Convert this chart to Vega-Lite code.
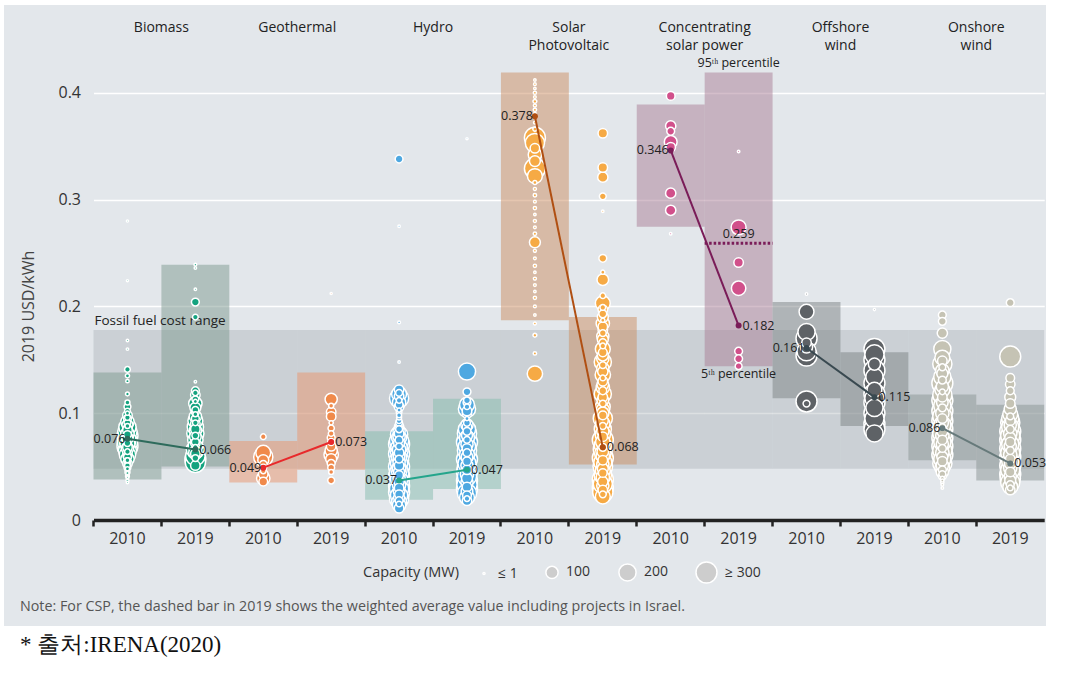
{
  "$schema": "https://vega.github.io/schema/vega-lite/v6.json",
  "width": 1042,
  "height": 621,
  "autosize": {"type": "none"},
  "padding": {"left": 4, "top": 5, "right": 38, "bottom": 52},
  "background": "white",
  "title": {
    "text": "Note: For CSP, the dashed bar in 2019 shows the weighted average value including projects in Israel.",
    "subtitle": "*  출처:IRENA(2020)",
    "orient": "bottom", "anchor": "start", "frame": "group",
    "offset": -26, "dx": 16,
    "font": "Open Sans", "fontSize": 14.3, "fontWeight": "normal", "color": "#555",
    "subtitleFont": "Liberation Serif", "subtitleFontSize": 23, "subtitleColor": "#111", "subtitlePadding": 20
  },
  "config": {
    "view": {"stroke": null, "fill": "#e3e7eb"},
    "font": "Open Sans",
    "text": {"font": "Open Sans", "color": "#222"},
    "legend": {"symbolBaseFillColor": "#cdcdcd", "symbolBaseStrokeColor": "white"}
  },
  "datasets": {
    "fossil": [
      {"cat": "Biomass 2010", "lo": 0.048, "hi": 0.178},
      {"cat": "Biomass 2019", "lo": 0.048, "hi": 0.178},
      {"cat": "Geothermal 2010", "lo": 0.048, "hi": 0.178},
      {"cat": "Geothermal 2019", "lo": 0.048, "hi": 0.178},
      {"cat": "Hydro 2010", "lo": 0.048, "hi": 0.178},
      {"cat": "Hydro 2019", "lo": 0.048, "hi": 0.178},
      {"cat": "Solar PV 2010", "lo": 0.048, "hi": 0.178},
      {"cat": "Solar PV 2019", "lo": 0.048, "hi": 0.178},
      {"cat": "CSP 2010", "lo": 0.048, "hi": 0.178},
      {"cat": "CSP 2019", "lo": 0.048, "hi": 0.178},
      {"cat": "Offshore wind 2010", "lo": 0.048, "hi": 0.178},
      {"cat": "Offshore wind 2019", "lo": 0.048, "hi": 0.178},
      {"cat": "Onshore wind 2010", "lo": 0.048, "hi": 0.178},
      {"cat": "Onshore wind 2019", "lo": 0.048, "hi": 0.178}
    ],
    "boxes": [
      {"cat": "Biomass 2010", "p5": 0.038, "p95": 0.138},
      {"cat": "Biomass 2019", "p5": 0.050, "p95": 0.239},
      {"cat": "Geothermal 2010", "p5": 0.035, "p95": 0.074},
      {"cat": "Geothermal 2019", "p5": 0.047, "p95": 0.138},
      {"cat": "Hydro 2010", "p5": 0.019, "p95": 0.083},
      {"cat": "Hydro 2019", "p5": 0.029, "p95": 0.1135},
      {"cat": "Solar PV 2010", "p5": 0.187, "p95": 0.419},
      {"cat": "Solar PV 2019", "p5": 0.052, "p95": 0.190},
      {"cat": "CSP 2010", "p5": 0.2745, "p95": 0.389},
      {"cat": "CSP 2019", "p5": 0.144, "p95": 0.419},
      {"cat": "Offshore wind 2010", "p5": 0.114, "p95": 0.204},
      {"cat": "Offshore wind 2019", "p5": 0.088, "p95": 0.157},
      {"cat": "Onshore wind 2010", "p5": 0.056, "p95": 0.1175},
      {"cat": "Onshore wind 2019", "p5": 0.037, "p95": 0.108}
    ],
    "bubbles": [
      {"cat": "Biomass 2010", "lcoe": [0.28,0.224,0.168,0.16,0.141,0.135,0.13,0.118,0.11,0.106,0.102,0.098,0.095,0.092,0.089,0.087,0.085,0.083,0.081,0.079,0.077,0.075,0.073,0.071,0.069,0.067,0.065,0.063,0.061,0.059,0.057,0.055,0.053,0.051,0.049,0.047,0.045,0.043,0.041,0.039,0.037,0.035],
       "mw": [1,1,2,2,20,10,6,8,15,30,20,60,40,120,80,200,60,250,120,300,90,200,280,150,300,100,220,60,180,40,120,30,60,20,30,10,15,5,8,3,4,2]},
      {"cat": "Biomass 2010", "lcoe": [0.1,0.096,0.091,0.088,0.084,0.08,0.076,0.072,0.068,0.064,0.06,0.056,0.052,0.048,0.044,0.04],
       "mw": [10,20,30,15,60,40,80,30,60,20,50,15,30,10,5,2]},
      {"cat": "Biomass 2019", "lcoe": [0.239,0.236,0.216,0.204,0.19,0.1295,0.121,0.117,0.113,0.109,0.105,0.101,0.097,0.093,0.09,0.087,0.084,0.081,0.078,0.075,0.072,0.069,0.066,0.063,0.06,0.057,0.054,0.051],
       "mw": [3,2,2,40,20,2,40,60,30,120,80,40,100,150,60,180,100,200,90,160,60,140,220,120,260,300,280,60]},
      {"cat": "Biomass 2019", "lcoe": [0.119,0.111,0.103,0.099,0.095,0.091,0.085,0.079,0.073,0.068,0.062,0.058],
       "mw": [20,10,30,15,40,20,60,30,40,20,60,30]},
      {"cat": "Geothermal 2010", "lcoe": [0.078,0.063,0.059,0.056,0.052,0.049,0.046,0.043,0.039,0.036],
       "mw": [20,150,250,80,40,30,20,60,120,50]},
      {"cat": "Geothermal 2019", "lcoe": [0.212,0.113,0.107,0.101,0.097,0.091,0.086,0.081,0.077,0.073,0.069,0.065,0.061,0.057,0.053,0.049,0.045,0.037],
       "mw": [1,100,15,60,60,10,25,20,40,30,60,100,140,80,40,30,15,30]},
      {"cat": "Hydro 2010", "lcoe": [0.338,0.275,0.185,0.148,0.122,0.118,0.114,0.11,0.106,0.101,0.096,0.091,0.087,0.083,0.08,0.077,0.074,0.071,0.068,0.065,0.062,0.059,0.056,0.053,0.05,0.047,0.044,0.041,0.038,0.035,0.032,0.029,0.026,0.023,0.02,0.017,0.014,0.011],
       "mw": [40,2,3,2,60,150,250,120,60,20,15,30,60,100,200,150,250,300,180,220,300,150,250,200,300,180,260,300,200,280,300,250,300,200,250,150,120,60]},
      {"cat": "Hydro 2010", "lcoe": [0.119,0.116,0.112,0.108,0.103,0.098,0.093,0.089,0.085,0.081,0.078,0.075,0.072,0.069,0.066,0.063,0.06,0.057,0.054,0.051,0.048,0.045,0.042,0.039,0.036,0.033,0.03,0.027,0.024,0.021,0.018,0.015],
       "mw": [30,60,20,40,10,15,20,40,30,60,100,40,80,30,120,60,90,40,100,60,120,80,50,100,70,120,60,90,50,80,40,20]},
      {"cat": "Hydro 2019", "lcoe": [0.357,0.139,0.12,0.112,0.108,0.104,0.1,0.089,0.085,0.081,0.077,0.073,0.069,0.065,0.061,0.057,0.053,0.049,0.045,0.041,0.037,0.033,0.029,0.025,0.021,0.018],
       "mw": [1,200,40,30,150,200,60,100,200,250,150,300,200,250,150,300,220,260,300,250,300,280,300,250,150,60]},
      {"cat": "Hydro 2019", "lcoe": [0.11,0.106,0.102,0.095,0.091,0.087,0.083,0.079,0.075,0.071,0.067,0.063,0.059,0.055,0.051,0.047,0.043,0.039,0.035,0.031,0.027,0.023,0.02],
       "mw": [40,20,60,10,30,60,40,80,30,100,60,40,90,50,100,60,120,80,100,60,90,50,20]},
      {"cat": "Solar PV 2010", "lcoe": [0.412,0.408,0.404,0.4,0.396,0.392,0.388,0.384,0.38,0.372,0.366,0.358,0.353,0.348,0.342,0.336,0.329,0.322,0.316,0.31,0.304,0.298,0.292,0.286,0.28,0.274,0.268,0.26,0.252,0.245,0.238,0.232,0.226,0.22,0.214,0.208,0.2,0.192,0.184,0.173,0.156,0.137],
       "mw": [2,3,2,5,3,8,4,6,5,3,10,300,250,60,120,80,300,150,10,4,6,3,5,2,4,3,6,80,4,3,5,2,4,3,2,5,3,2,4,8,6,160]},
      {"cat": "Solar PV 2019", "lcoe": [0.362,0.33,0.321,0.303,0.289,0.245,0.232,0.225,0.21,0.203,0.197,0.19,0.184,0.178,0.172,0.166,0.16,0.154,0.148,0.142,0.136,0.13,0.124,0.118,0.112,0.106,0.1,0.095,0.09,0.085,0.08,0.075,0.07,0.066,0.062,0.058,0.054,0.05,0.046,0.042,0.038,0.034,0.03,0.026,0.022],
       "mw": [60,60,70,30,2,40,10,90,20,150,60,80,120,60,100,40,150,80,200,100,160,60,120,200,90,150,100,250,140,200,160,300,200,250,180,300,220,260,150,200,300,250,300,280,150]},
      {"cat": "Solar PV 2019", "lcoe": [0.199,0.193,0.187,0.181,0.175,0.169,0.163,0.157,0.151,0.145,0.139,0.133,0.127,0.121,0.115,0.109,0.103,0.098,0.093,0.088,0.083,0.078,0.073,0.068,0.064,0.06,0.056,0.052,0.048,0.044,0.04,0.036,0.032,0.028,0.024],
       "mw": [20,40,10,60,30,80,20,50,100,30,70,20,90,40,60,30,120,50,80,30,100,60,140,40,90,120,60,100,80,50,120,70,100,60,30]},
      {"cat": "CSP 2010", "lcoe": [0.397,0.369,0.364,0.354,0.349,0.306,0.29,0.268],
       "mw": [50,70,40,110,60,70,70,2]},
      {"cat": "CSP 2019", "lcoe": [0.345,0.274,0.241,0.217,0.158,0.151,0.144],
       "mw": [2,150,60,140,40,40,30]},
      {"cat": "Offshore wind 2010", "lcoe": [0.2116,0.195,0.176,0.17,0.166,0.162,0.158,0.154,0.111,0.109],
       "mw": [2,150,200,300,60,100,250,300,300,30]},
      {"cat": "Offshore wind 2019", "lcoe": [0.197,0.16,0.155,0.15,0.146,0.14,0.134,0.128,0.122,0.118,0.114,0.11,0.105,0.1,0.095,0.09,0.085,0.081],
       "mw": [1,300,250,300,100,300,200,300,150,300,250,300,200,300,250,300,300,200]},
      {"cat": "Onshore wind 2010", "lcoe": [0.192,0.186,0.175,0.16,0.152,0.146,0.14,0.134,0.128,0.122,0.117,0.112,0.107,0.102,0.097,0.093,0.089,0.085,0.081,0.077,0.073,0.069,0.065,0.061,0.057,0.053,0.049,0.045,0.041,0.035,0.03],
       "mw": [40,40,70,200,150,250,120,200,300,150,250,300,200,300,250,300,200,300,250,300,200,300,250,300,200,250,150,100,40,5,2]},
      {"cat": "Onshore wind 2010", "lcoe": [0.149,0.143,0.137,0.131,0.125,0.12,0.115,0.11,0.105,0.1,0.095,0.091,0.087,0.083,0.079,0.075,0.071,0.067,0.063,0.059,0.055,0.051,0.047,0.043,0.039,0.037,0.033],
       "mw": [60,30,80,40,100,20,60,90,40,120,60,100,30,80,120,60,100,40,120,80,60,100,40,30,10,5,3]},
      {"cat": "Onshore wind 2019", "lcoe": [0.2035,0.153,0.133,0.127,0.121,0.115,0.109,0.104,0.099,0.095,0.091,0.087,0.083,0.079,0.075,0.071,0.067,0.063,0.059,0.055,0.051,0.047,0.043,0.039,0.035,0.031,0.028],
       "mw": [40,300,50,60,40,80,60,100,150,200,250,200,300,250,300,200,300,250,300,200,300,250,300,280,250,150,60]},
      {"cat": "Onshore wind 2019", "lcoe": [0.097,0.093,0.089,0.085,0.081,0.077,0.073,0.069,0.065,0.061,0.057,0.053,0.049,0.045,0.041,0.037,0.033,0.03],
       "mw": [30,60,100,40,120,80,60,100,40,120,60,90,120,60,100,80,40,20]}
    ],
    "wavg": [
      {"cat": "Biomass 2010", "tech": "Biomass", "year": 2010, "wavg": 0.076},
      {"cat": "Biomass 2019", "tech": "Biomass", "year": 2019, "wavg": 0.066},
      {"cat": "Geothermal 2010", "tech": "Geothermal", "year": 2010, "wavg": 0.049},
      {"cat": "Geothermal 2019", "tech": "Geothermal", "year": 2019, "wavg": 0.073},
      {"cat": "Hydro 2010", "tech": "Hydro", "year": 2010, "wavg": 0.037},
      {"cat": "Hydro 2019", "tech": "Hydro", "year": 2019, "wavg": 0.047},
      {"cat": "Solar PV 2010", "tech": "Solar PV", "year": 2010, "wavg": 0.378},
      {"cat": "Solar PV 2019", "tech": "Solar PV", "year": 2019, "wavg": 0.068},
      {"cat": "CSP 2010", "tech": "CSP", "year": 2010, "wavg": 0.346},
      {"cat": "CSP 2019", "tech": "CSP", "year": 2019, "wavg": 0.182},
      {"cat": "Offshore wind 2010", "tech": "Offshore wind", "year": 2010, "wavg": 0.161},
      {"cat": "Offshore wind 2019", "tech": "Offshore wind", "year": 2019, "wavg": 0.115},
      {"cat": "Onshore wind 2010", "tech": "Onshore wind", "year": 2010, "wavg": 0.086},
      {"cat": "Onshore wind 2019", "tech": "Onshore wind", "year": 2019, "wavg": 0.053}
    ],
    "headers": [
      {"cat": "Biomass 2019", "name": "Biomass"},
      {"cat": "Geothermal 2019", "name": "Geothermal"},
      {"cat": "Hydro 2019", "name": "Hydro"},
      {"cat": "Solar PV 2019", "name": "Solar\nPhotovoltaic"},
      {"cat": "CSP 2019", "name": "Concentrating\nsolar power"},
      {"cat": "Offshore wind 2019", "name": "Offshore\nwind"},
      {"cat": "Onshore wind 2019", "name": "Onshore\nwind"}
    ]
  },
  "resolve": {"scale": {"fill": "independent"}},
  "layer": [
    {
      "data": {"name": "fossil"},
      "mark": {"type": "rect", "fill": "#9ea7ad", "opacity": 0.35},
      "encoding": {
        "x": {"field": "cat", "type": "nominal",
          "scale": {"domain": ["Biomass 2010","Biomass 2019","Geothermal 2010","Geothermal 2019","Hydro 2010","Hydro 2019","Solar PV 2010","Solar PV 2019","CSP 2010","CSP 2019","Offshore wind 2010","Offshore wind 2019","Onshore wind 2010","Onshore wind 2019"],
            "range": [89.5, 1040.2], "paddingInner": 0, "paddingOuter": 0},
          "axis": {"orient": "bottom", "offset": -106, "bandPosition": 0,
            "labelExpr": "slice(datum.label, -4)", "labelAngle": 0, "title": null, "grid": false,
            "domainColor": "#222", "domainWidth": 3.5, "tickColor": "#222", "tickWidth": 2.5, "tickSize": 6,
            "labelFontSize": 16, "labelColor": "#333", "labelPadding": 4, "labelFont": "Open Sans"}},
        "y": {"field": "lo", "type": "quantitative",
          "scale": {"domain": [0, 0.47], "range": [515, 13], "nice": false, "zero": false},
          "axis": {"values": [0, 0.1, 0.2, 0.3, 0.4],
            "labelExpr": "datum.value == 0 ? '0' : format(datum.value, '.1f')",
            "grid": true, "gridColor": "white", "gridWidth": 1.3, "domain": false, "ticks": false, "tickSize": 0,
            "labelPadding": 13, "labelFontSize": 16, "labelColor": "#333", "labelFont": "Open Sans", "offset": -89.5,
            "title": "2019 USD/kWh", "titleFontSize": 16, "titleFontWeight": "normal", "titleColor": "#444", "titleFont": "Open Sans",
            "titleX": -65.5, "titleY": 301, "titleAngle": 270, "titleAlign": "center", "titleBaseline": "middle"}},
        "y2": {"field": "hi"}
      }
    },
    {
      "data": {"name": "boxes"},
      "mark": {"type": "rect", "opacity": 0.5},
      "encoding": {
        "x": {"field": "cat", "type": "nominal"},
        "y": {"field": "p5", "type": "quantitative"},
        "y2": {"field": "p95"},
        "fill": {"field": "cat", "type": "nominal", "legend": null,
          "scale": {"domain": ["Biomass 2010","Biomass 2019","Geothermal 2010","Geothermal 2019","Hydro 2010","Hydro 2019","Solar PV 2010","Solar PV 2019","CSP 2010","CSP 2019","Offshore wind 2010","Offshore wind 2019","Onshore wind 2010","Onshore wind 2019"],
            "range": ["#7d9a90","#7d9a90","#e9946c","#e9946c","#86bbae","#86bbae","#cb8d62","#cb8d62","#a97d96","#a97d96","#7b8184","#7b8184","#8a9393","#8a9393"]}}
      }
    },
    {
      "data": {"values": [{"cat": "Biomass 2010", "hi": 0.178, "label": "Fossil fuel cost range"}]},
      "mark": {"type": "text", "align": "left", "baseline": "bottom", "dx": 1, "dy": -2, "fontSize": 13.5, "color": "#222"},
      "encoding": {
        "x": {"field": "cat", "type": "nominal", "bandPosition": 0},
        "y": {"field": "hi", "type": "quantitative"},
        "text": {"field": "label"}
      }
    },
    {
      "data": {"name": "bubbles"},
      "transform": [{"flatten": ["lcoe", "mw"]}],
      "mark": {"type": "circle", "stroke": "white", "strokeWidth": 1.5, "opacity": 1},
      "encoding": {
        "x": {"field": "cat", "type": "nominal"},
        "y": {"field": "lcoe", "type": "quantitative"},
        "size": {"field": "mw", "type": "quantitative",
          "scale": {"domain": [0, 300], "range": [3, 440], "clamp": true},
          "legend": {"title": "Capacity (MW)", "values": [1, 100, 200, 300],
            "labelExpr": "datum.value <= 1 ? '≤ 1' : datum.value >= 300 ? '≥ 300' : datum.label",
            "orient": "none", "legendX": 359, "legendY": 556, "direction": "horizontal",
            "titleOrient": "left", "titleAnchor": "middle", "titleBaseline": "middle", "titleFontSize": 14.5, "titleFontWeight": "normal",
            "titleColor": "#333", "titleFont": "Open Sans", "titlePadding": 18,
            "labelFontSize": 14, "labelColor": "#333", "labelFont": "Open Sans", "labelOffset": 7, "columnPadding": 24,
            "symbolType": "circle", "symbolFillColor": "#cdcdcd", "symbolStrokeColor": "white", "symbolStrokeWidth": 1.5, "symbolOpacity": 1}
        },
        "fill": {"field": "cat", "type": "nominal", "legend": null,
          "scale": {"domain": ["Biomass 2010","Biomass 2019","Geothermal 2010","Geothermal 2019","Hydro 2010","Hydro 2019","Solar PV 2010","Solar PV 2019","CSP 2010","CSP 2019","Offshore wind 2010","Offshore wind 2019","Onshore wind 2010","Onshore wind 2019"],
            "range": ["#14a37f","#14a37f","#f08a4b","#f08a4b","#4ea8e1","#4ea8e1","#f6aa45","#f6aa45","#d1508b","#d1508b","#5e6266","#5e6266","#c5c3b4","#c5c3b4"]}},
        "order": {"field": "mw", "sort": "descending"}
      }
    },
    {
      "data": {"name": "wavg"},
      "mark": {"type": "line", "strokeWidth": 2},
      "encoding": {
        "x": {"field": "cat", "type": "nominal"},
        "y": {"field": "wavg", "type": "quantitative"},
        "color": {"field": "tech", "type": "nominal", "legend": null,
          "scale": {"domain": ["Biomass","Geothermal","Hydro","Solar PV","CSP","Offshore wind","Onshore wind"],
            "range": ["#2e6b5c","#e8292b","#24a58c","#b04f12","#7a1c58","#394950","#677a7b"]}}
      }
    },
    {
      "data": {"name": "wavg"},
      "mark": {"type": "circle", "size": 36, "opacity": 1},
      "encoding": {
        "x": {"field": "cat", "type": "nominal"},
        "y": {"field": "wavg", "type": "quantitative"},
        "color": {"field": "tech", "type": "nominal", "legend": null}
      }
    },
    {
      "data": {"values": [{"cat": "CSP 2019", "isr": 0.259}]},
      "mark": {"type": "rule", "color": "#7a1c58", "strokeWidth": 3, "strokeDash": [2.5, 2]},
      "encoding": {
        "x": {"field": "cat", "type": "nominal", "bandPosition": 0},
        "x2": {"field": "cat", "bandPosition": 1},
        "y": {"field": "isr", "type": "quantitative"}
      }
    },
    {
      "data": {"name": "wavg"},
      "transform": [{"filter": "datum.year == 2010"}],
      "mark": {"type": "text", "align": "right", "baseline": "middle", "dx": -2, "fontSize": 12.5, "color": "#222"},
      "encoding": {
        "x": {"field": "cat", "type": "nominal"},
        "y": {"field": "wavg", "type": "quantitative"},
        "text": {"field": "wavg", "type": "quantitative", "format": ".3f"}
      }
    },
    {
      "data": {"name": "wavg"},
      "transform": [{"filter": "datum.year == 2019"}],
      "mark": {"type": "text", "align": "left", "baseline": "middle", "dx": 4, "fontSize": 12.5, "color": "#222"},
      "encoding": {
        "x": {"field": "cat", "type": "nominal"},
        "y": {"field": "wavg", "type": "quantitative"},
        "text": {"field": "wavg", "type": "quantitative", "format": ".3f"}
      }
    },
    {
      "data": {"values": [{"cat": "CSP 2019", "v": 0.419, "t": "95ᵗʰ percentile"}, {"cat": "CSP 2019", "v": 0.259, "t": "0.259"}]},
      "mark": {"type": "text", "align": "center", "baseline": "bottom", "dy": -2, "fontSize": 12.5, "color": "#222"},
      "encoding": {
        "x": {"field": "cat", "type": "nominal"},
        "y": {"field": "v", "type": "quantitative"},
        "text": {"field": "t"}
      }
    },
    {
      "data": {"values": [{"cat": "CSP 2019", "v": 0.144, "t": "5ᵗʰ percentile"}]},
      "mark": {"type": "text", "align": "center", "baseline": "top", "dy": 2, "fontSize": 12.5, "color": "#222"},
      "encoding": {
        "x": {"field": "cat", "type": "nominal"},
        "y": {"field": "v", "type": "quantitative"},
        "text": {"field": "t"}
      }
    },
    {
      "data": {"name": "headers"},
      "mark": {"type": "text", "align": "center", "baseline": "top", "lineBreak": "\n", "lineHeight": 17.5, "fontSize": 14, "color": "#222"},
      "encoding": {
        "x": {"field": "cat", "type": "nominal", "bandPosition": 0},
        "y": {"datum": 0.4668, "type": "quantitative"},
        "text": {"field": "name"}
      }
    }
  ]
}
